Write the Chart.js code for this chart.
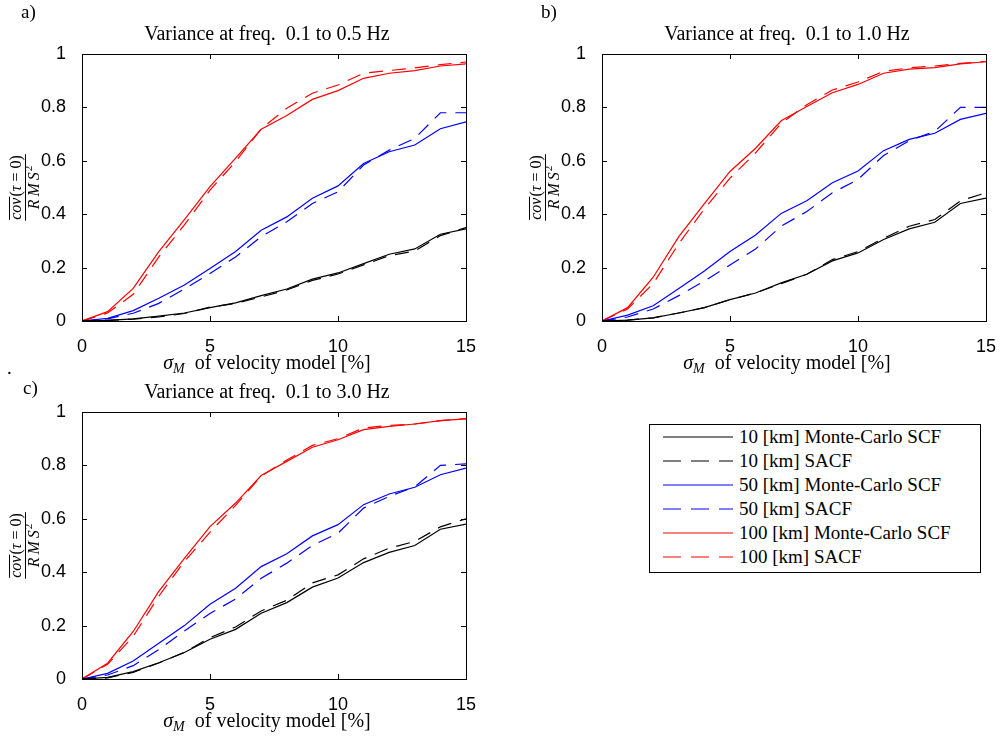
<!DOCTYPE html>
<html>
<head>
    <title>Variance vs sigma_M</title>
    <script src="https://cdn.jsdelivr.net/npm/chart.js@4.4.0/dist/chart.umd.min.js"></script>
    <style>
        body {
            margin: 0;
            background: #fff;
            width: 1003px;
            height: 740px;
            position: relative;
            overflow: hidden;
            font-family: "Liberation Serif", serif;
        }
        .panel {
            position: absolute;
            width: 483px;
            height: 380px;
        }
        .tag {
            position: absolute;
            font-size: 19px;
            line-height: 20px;
        }
        .legend {
            position: absolute;
            left: 649px;
            top: 424px;
            width: 332px;
            height: 149px;
            border: 1px solid #000;
            box-sizing: border-box;
        }
        .legend .row {
            height: 24px;
            display: flex;
            align-items: center;
            font-size: 19px;
        }
        .legend svg {
            margin-left: 13px;
            margin-right: 6px;
        }
    </style>
</head>
<body>
    <div class="panel" style="left:0;top:0"><canvas id="chartA"></canvas></div>
    <div class="panel" style="left:520px;top:0"><canvas id="chartB"></canvas></div>
    <div class="panel" style="left:0;top:358px"><canvas id="chartC"></canvas></div>

    <div class="tag" style="left:21px;top:2px">a)</div>
    <div class="tag" style="left:541px;top:2px">b)</div>
    <div class="tag" style="left:7px;top:358px">.</div>
    <div class="tag" style="left:23px;top:378px">c)</div>

    <div class="legend" id="legend"></div>

    <script>
        // sigma_M of velocity model [%]
        const sigmaM = [0, 1, 2, 3, 4, 5, 6, 7, 8, 9, 10, 11, 12, 13, 14, 15];

        // a) 0.1 to 0.5 Hz
        const mc10A    = [0, 0.002, 0.008, 0.018, 0.03, 0.05, 0.068, 0.095, 0.12, 0.157, 0.18, 0.215, 0.25, 0.27, 0.325, 0.345];
        const sacf10A  = [0, 0.002, 0.007, 0.015, 0.028, 0.052, 0.066, 0.09, 0.116, 0.152, 0.176, 0.21, 0.245, 0.262, 0.32, 0.35];
        const mc50A    = [0, 0.01, 0.039, 0.085, 0.135, 0.197, 0.26, 0.34, 0.39, 0.46, 0.506, 0.59, 0.634, 0.659, 0.72, 0.746];
        const sacf50A  = [0, 0.008, 0.029, 0.066, 0.12, 0.178, 0.24, 0.316, 0.372, 0.44, 0.484, 0.584, 0.64, 0.684, 0.78, 0.78];
        const mc100A   = [0, 0.035, 0.122, 0.26, 0.38, 0.503, 0.61, 0.718, 0.77, 0.83, 0.863, 0.909, 0.928, 0.938, 0.955, 0.963];
        const sacf100A = [0, 0.03, 0.1, 0.24, 0.36, 0.49, 0.597, 0.72, 0.797, 0.853, 0.884, 0.928, 0.938, 0.948, 0.96, 0.97];

        // b) 0.1 to 1.0 Hz
        const mc10B    = [0, 0.003, 0.012, 0.03, 0.05, 0.08, 0.105, 0.143, 0.175, 0.225, 0.255, 0.305, 0.345, 0.37, 0.44, 0.46];
        const sacf10B  = [0, 0.003, 0.012, 0.03, 0.05, 0.08, 0.105, 0.14, 0.175, 0.23, 0.26, 0.31, 0.355, 0.38, 0.45, 0.48];
        const mc50B    = [0, 0.022, 0.057, 0.122, 0.187, 0.26, 0.322, 0.403, 0.45, 0.518, 0.562, 0.638, 0.68, 0.703, 0.755, 0.778];
        const sacf50B  = [0, 0.015, 0.045, 0.095, 0.15, 0.21, 0.27, 0.355, 0.41, 0.48, 0.53, 0.62, 0.675, 0.71, 0.8, 0.8];
        const mc100B   = [0, 0.05, 0.164, 0.316, 0.44, 0.56, 0.647, 0.75, 0.803, 0.855, 0.886, 0.928, 0.943, 0.949, 0.963, 0.971];
        const sacf100B = [0, 0.045, 0.14, 0.29, 0.42, 0.535, 0.63, 0.74, 0.81, 0.865, 0.895, 0.935, 0.948, 0.955, 0.965, 0.972];

        // c) 0.1 to 3.0 Hz
        const mc10C    = [0, 0.006, 0.0275, 0.061, 0.099, 0.149, 0.186, 0.246, 0.286, 0.344, 0.378, 0.436, 0.474, 0.5, 0.561, 0.58];
        const sacf10C  = [0, 0.004, 0.025, 0.06, 0.1, 0.155, 0.195, 0.255, 0.295, 0.36, 0.39, 0.45, 0.49, 0.515, 0.57, 0.6];
        const mc50C    = [0, 0.021, 0.0675, 0.134, 0.2, 0.28, 0.34, 0.421, 0.469, 0.536, 0.578, 0.653, 0.693, 0.718, 0.765, 0.79];
        const sacf50C  = [0, 0.015, 0.05, 0.11, 0.18, 0.245, 0.3, 0.377, 0.434, 0.5, 0.546, 0.64, 0.684, 0.72, 0.8, 0.806];
        const mc100C   = [0, 0.059, 0.178, 0.328, 0.452, 0.571, 0.659, 0.762, 0.815, 0.868, 0.896, 0.934, 0.946, 0.955, 0.9675, 0.974];
        const sacf100C = [0, 0.055, 0.16, 0.31, 0.44, 0.55, 0.65, 0.76, 0.82, 0.875, 0.9, 0.94, 0.95, 0.955, 0.968, 0.975];

        const seriesNames = ['10 [km] Monte-Carlo SCF', '10 [km] SACF', '50 [km] Monte-Carlo SCF',
                             '50 [km] SACF', '100 [km] Monte-Carlo SCF', '100 [km] SACF'];
        const seriesColors = ['#000000', '#000000', '#0000ff', '#0000ff', '#ff0000', '#ff0000'];
        const seriesDashed = [false, true, false, true, false, true];
        const dashPattern = [14, 9];

        const SERIF = '"Liberation Serif", "Times New Roman", serif';
        const SANS = '"Liberation Sans", Arial, sans-serif';

        // draw a run of text pieces [font, text, dy, extra advance] starting at x
        function drawPieces(ctx, pieces, x, y) {
            pieces.forEach(p => {
                ctx.font = p[0];
                ctx.fillText(p[1], x, y + (p[2] || 0));
                x += ctx.measureText(p[1]).width + (p[3] || 0);
            });
            return x;
        }
        function piecesWidth(ctx, pieces) {
            let w = 0;
            pieces.forEach(p => { ctx.font = p[0]; w += ctx.measureText(p[1]).width + (p[3] || 0); });
            return w;
        }

        // matlab style box with inward ticks on all four sides
        const boxTicks = {
            id: 'boxTicks',
            afterDatasetsDraw(chart) {
                const {ctx, chartArea: a, scales: {x, y}} = chart;
                ctx.save();
                ctx.strokeStyle = '#000';
                ctx.lineWidth = 1;
                ctx.beginPath();
                x.ticks.forEach(t => {
                    const px = Math.round(x.getPixelForValue(t.value)) + 0.5;
                    ctx.moveTo(px, a.bottom); ctx.lineTo(px, a.bottom - 5);
                    ctx.moveTo(px, a.top); ctx.lineTo(px, a.top + 5);
                });
                y.ticks.forEach(t => {
                    const py = Math.round(y.getPixelForValue(t.value)) + 0.5;
                    ctx.moveTo(a.left, py); ctx.lineTo(a.left + 5, py);
                    ctx.moveTo(a.right, py); ctx.lineTo(a.right - 5, py);
                });
                ctx.stroke();
                ctx.strokeRect(Math.round(a.left) + 0.5, Math.round(a.top) + 0.5,
                               Math.round(a.right - a.left), Math.round(a.bottom - a.top));
                ctx.restore();
            }
        };

        // title, x label (with subscript) and y label (fraction)
        const axisLabels = {
            id: 'axisLabels',
            afterDraw(chart) {
                const {ctx, chartArea: a} = chart;
                const mid = (a.left + a.right) / 2 - 7;
                ctx.save();
                ctx.fillStyle = '#000';
                ctx.strokeStyle = '#000';
                ctx.textBaseline = 'alphabetic';

                // title
                const tl = [['20px ' + SERIF, chart.options.panelTitle]];
                drawPieces(ctx, tl, mid - piecesWidth(ctx, tl) / 2, 40);

                // x label
                const xl = [['italic 20px ' + SERIF, 'σ'], ['italic 14px ' + SERIF, 'M', 4],
                            ['20px ' + SERIF, '  of velocity model [%]']];
                drawPieces(ctx, xl, mid - piecesWidth(ctx, xl) / 2, a.bottom + 48);

                // y label, rotated fraction
                ctx.translate(a.left - 57, (a.top + a.bottom) / 2);
                ctx.rotate(-Math.PI / 2);
                const num = [['italic 16px ' + SERIF, 'cov', 0, 1], ['16px ' + SERIF, '('],
                             ['italic 16px ' + SERIF, 'τ'], ['16px ' + SERIF, ' = 0)']];
                const den = [['italic 16px ' + SERIF, 'R', 0, 3], ['italic 16px ' + SERIF, 'M', 0, 3],
                             ['italic 16px ' + SERIF, 'S', 0, 1], ['11px ' + SERIF, '2', -7]];
                const nw = piecesWidth(ctx, num);
                const dw = piecesWidth(ctx, den);
                ctx.font = 'italic 16px ' + SERIF;
                const covW = ctx.measureText('cov').width;
                drawPieces(ctx, num, -nw / 2, -4);
                drawPieces(ctx, den, -dw / 2, 14);
                ctx.lineWidth = 1;
                ctx.beginPath();
                ctx.moveTo(-nw / 2 - 1, 0.5); ctx.lineTo(nw / 2 + 1, 0.5);
                ctx.moveTo(-nw / 2, -15.5); ctx.lineTo(-nw / 2 + covW + 1, -15.5);
                ctx.stroke();
                ctx.restore();
            }
        };

        function makeDatasets(values) {
            return values.map((vals, i) => ({
                label: seriesNames[i],
                data: sigmaM.map((s, k) => ({x: s, y: vals[k]})),
                borderColor: seriesColors[i],
                borderWidth: 1.2,
                borderDash: seriesDashed[i] ? dashPattern : [],
                pointRadius: 0,
                tension: 0,
                fill: false
            }));
        }

        function makeChart(id, titleText, values) {
            return new Chart(document.getElementById(id), {
                type: 'line',
                data: {datasets: makeDatasets(values)},
                plugins: [boxTicks, axisLabels],
                options: {
                    panelTitle: titleText,
                    responsive: false,
                    animation: false,
                    devicePixelRatio: 1,
                    layout: {padding: {left: 0, right: 12, top: 54, bottom: 0}},
                    plugins: {
                        legend: {display: false},
                        tooltip: {enabled: false},
                        title: {display: false}
                    },
                    scales: {
                        x: {
                            type: 'linear',
                            min: 0,
                            max: 15,
                            ticks: {stepSize: 5, color: '#000', padding: 7,
                                    font: {family: SANS, size: 18}},
                            grid: {display: false},
                            border: {display: false},
                            afterFit: s => { s.height = 59; }
                        },
                        y: {
                            min: 0,
                            max: 1,
                            ticks: {stepSize: 0.2, color: '#000', padding: 8,
                                    font: {family: SANS, size: 18},
                                    callback: v => String(Number(v.toFixed(1)))},
                            grid: {display: false},
                            border: {display: false},
                            afterFit: s => { s.width = 82; }
                        }
                    }
                }
            });
        }

        function sizeCanvas(id) {
            const c = document.getElementById(id);
            c.width = 483; c.height = 380;
            c.style.width = '483px'; c.style.height = '380px';
        }
        ['chartA', 'chartB', 'chartC'].forEach(sizeCanvas);

        makeChart('chartA', 'Variance at freq.  0.1 to 0.5 Hz', [mc10A, sacf10A, mc50A, sacf50A, mc100A, sacf100A]);
        makeChart('chartB', 'Variance at freq.  0.1 to 1.0 Hz', [mc10B, sacf10B, mc50B, sacf50B, mc100B, sacf100B]);
        makeChart('chartC', 'Variance at freq.  0.1 to 3.0 Hz', [mc10C, sacf10C, mc50C, sacf50C, mc100C, sacf100C]);

        // legend
        const legend = document.getElementById('legend');
        seriesNames.forEach((name, i) => {
            const row = document.createElement('div');
            row.className = 'row';
            const dash = seriesDashed[i] ? ' stroke-dasharray="18 10"' : '';
            row.innerHTML = '<svg width="70" height="4"><line x1="0" y1="2" x2="70" y2="2" stroke="' +
                seriesColors[i] + '" stroke-width="1.2"' + dash + '/></svg><span>' + name + '</span>';
            legend.appendChild(row);
        });
    </script>
</body>
</html>
